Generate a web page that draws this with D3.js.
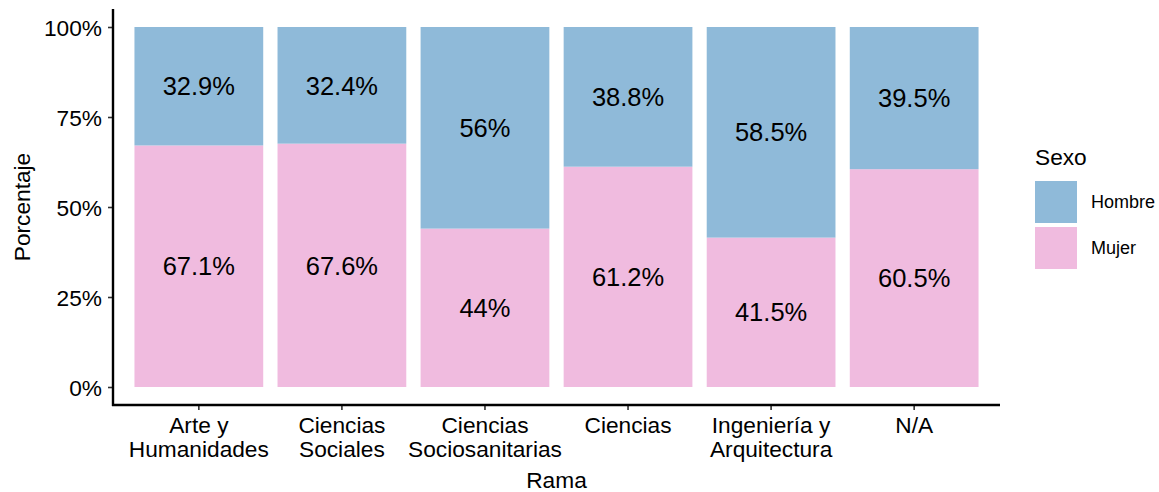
<!DOCTYPE html>
<html>
<head>
<meta charset="utf-8">
<script src="https://cdn.jsdelivr.net/npm/d3@7"></script>
<style>
  body { margin: 0; background: #fff; }
  svg text { font-family: "Liberation Sans", Arial, Helvetica, sans-serif; fill: #000; }
</style>
</head>
<body>
<div id="chart"></div>
<script>
// data
const ramas = ["Arte y\nHumanidades", "Ciencias\nSociales", "Ciencias\nSociosanitarias", "Ciencias", "Ingeniería y\nArquitectura", "N/A"];
const mujer = [67.1, 67.6, 44, 61.2, 41.5, 60.5];
const hombre = [32.9, 32.4, 56, 38.8, 58.5, 39.5];
const yTicks = [0, 25, 50, 75, 100];
const sexos = ["Hombre", "Mujer"];
const colores = ["#8fbad9", "#f0bbdf"];

const width = 1159, height = 492;
const margin = {left: 113, right: 159, top: 9, bottom: 87};

const svg = d3.select("#chart").append("svg")
    .attr("width", width)
    .attr("height", height);

// ggplot discrete axis: 0.6 of a step from edge to first centre
const x = d3.scaleBand()
    .domain(ramas)
    .range([margin.left, width - margin.right])
    .paddingInner(0.1)
    .paddingOuter(0.15);

// 5% expansion on the y range, like ggplot
const y = d3.scaleLinear()
    .domain([-5, 105])
    .range([height - margin.bottom, margin.top]);

const rows = ramas.map((r, i) => ({rama: r, Mujer: mujer[i], Hombre: hombre[i]}));
const stack = d3.stack().keys(["Mujer", "Hombre"]);
const series = stack(rows);
const color = d3.scaleOrdinal().domain(sexos).range(colores);

// bars
svg.append("g").selectAll("g")
  .data(series)
  .enter().append("g")
    .attr("fill", d => color(d.key))
  .selectAll("rect")
  .data(d => d)
  .enter().append("rect")
    .attr("x", d => x(d.data.rama))
    .attr("width", x.bandwidth())
    .attr("y", d => y(d[1]))
    .attr("height", d => y(d[0]) - y(d[1]));

// labels inside bars
svg.append("g").selectAll("g")
  .data(series)
  .enter().append("g")
  .selectAll("text")
  .data(d => d.map(v => ({v: v, key: d.key})))
  .enter().append("text")
    .attr("x", d => x(d.v.data.rama) + x.bandwidth() / 2)
    .attr("y", d => y((d.v[0] + d.v[1]) / 2))
    .attr("dy", "0.36em")
    .attr("text-anchor", "middle")
    .style("font-size", "25.5px")
    .text(d => d.v.data[d.key] + "%");

// y axis
const yAxis = svg.append("g")
    .attr("transform", `translate(${margin.left},0)`)
    .call(d3.axisLeft(y).tickValues(yTicks).tickFormat(d => d + "%").tickSize(5).tickPadding(6));
yAxis.select(".domain").remove();
yAxis.selectAll(".tick line").attr("stroke", "#333").attr("stroke-width", 1.6);
yAxis.selectAll(".tick text").style("font-size", "22.7px").attr("dy", "0.36em");

// x axis
const xAxis = svg.append("g")
    .attr("transform", `translate(0,${height - margin.bottom})`)
    .call(d3.axisBottom(x).tickSize(5).tickFormat(""));
xAxis.select(".domain").remove();
xAxis.selectAll(".tick line").attr("stroke", "#333").attr("stroke-width", 1.6);
xAxis.selectAll(".tick").each(function(d) {
  const t = d3.select(this).append("text")
      .attr("text-anchor", "middle")
      .style("font-size", "22.7px");
  d.split("\n").forEach((line, i) => {
    t.append("tspan").attr("x", 0).attr("y", 28 + i * 24).text(line);
  });
});

// axis lines
svg.append("line")
    .attr("x1", margin.left).attr("x2", margin.left)
    .attr("y1", margin.top).attr("y2", height - margin.bottom + 1)
    .attr("stroke", "#000").attr("stroke-width", 2.4);
svg.append("line")
    .attr("x1", margin.left - 1).attr("x2", width - margin.right)
    .attr("y1", height - margin.bottom).attr("y2", height - margin.bottom)
    .attr("stroke", "#000").attr("stroke-width", 2.4);

// axis titles
svg.append("text")
    .attr("x", (margin.left + width - margin.right) / 2)
    .attr("y", 488)
    .attr("text-anchor", "middle")
    .style("font-size", "22.7px")
    .text("Rama");
svg.append("text")
    .attr("transform", `translate(30,${y(50)}) rotate(-90)`)
    .attr("text-anchor", "middle")
    .style("font-size", "22.7px")
    .text("Porcentaje");

// legend
const legend = svg.append("g").attr("transform", "translate(1035,0)");
legend.append("text")
    .attr("x", 0).attr("y", 165)
    .style("font-size", "22.7px")
    .text("Sexo");
const items = legend.selectAll("g.item")
  .data(sexos)
  .enter().append("g")
    .attr("class", "item")
    .attr("transform", (d, i) => `translate(0,${181 + i * 46})`);
items.append("rect")
    .attr("width", 42).attr("height", 42)
    .attr("fill", d => color(d));
items.append("text")
    .attr("x", 56).attr("y", 21)
    .attr("dy", "0.36em")
    .style("font-size", "18px")
    .text(d => d);
</script>
</body>
</html>
